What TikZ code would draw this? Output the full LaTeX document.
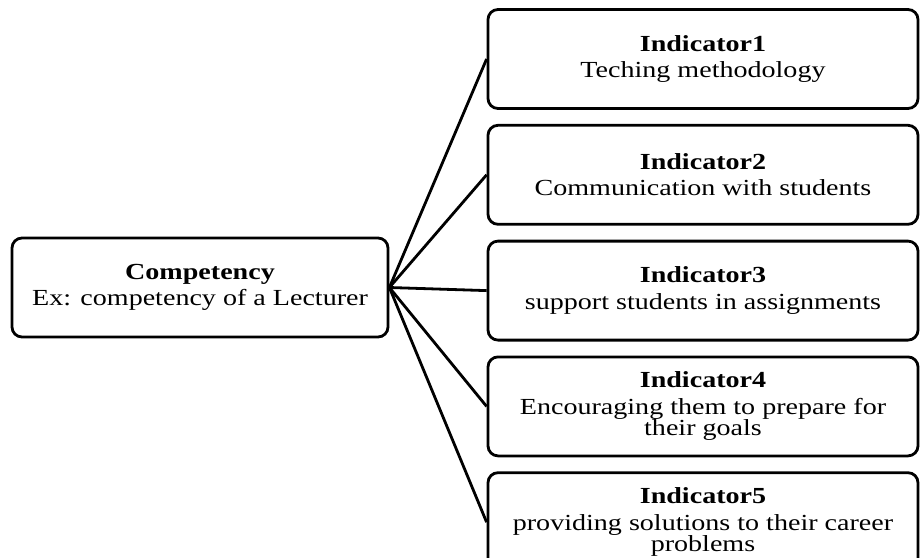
\documentclass[tikz,border=0pt]{standalone}
\usepackage{fontspec}
\setmainfont{Liberation Serif}[FakeStretch=1.22]
\usetikzlibrary{positioning}

\begin{document}
\begin{tikzpicture}[
    x=1pt, y=-1pt,
    node distance=14pt,
    box/.style={draw, rectangle, rounded corners=10pt, line width=2.8pt, align=center,
                minimum width=430pt, minimum height=99pt, inner sep=2pt,
                font=\fontsize{23}{21.5}\selectfont},
    link/.style={line width=2.8pt}
]
\useasboundingbox (0,0) rectangle (920,557);
\clip (0,0) rectangle (920,557);

\node[box, minimum width=376pt] (comp) at (200,287.5) {\textbf{Competency}\\[5pt]Ex: competency of a Lecturer};

\node[box] (ind1) at (703,59) {\textbf{Indicator1}\\[5pt]Teching methodology};
\node[box, below=of ind1] (ind2) {\textbf{Indicator2}\\[5pt]Communication with students};
\node[box, below=of ind2] (ind3) {\textbf{Indicator3}\\[5pt]support students in assignments};
\node[box, below=of ind3] (ind4) {\textbf{Indicator4}\\[5pt]Encouraging them to prepare for\\their goals};
\node[box, below=of ind4] (ind5) {\textbf{Indicator5}\\[5pt]providing solutions to their career\\problems};

\draw[link] (comp.east) -- (ind1.west);
\draw[link] (comp.east) -- (ind2.west);
\draw[link] (comp.east) -- (ind3.west);
\draw[link] (comp.east) -- (ind4.west);
\draw[link] (comp.east) -- (ind5.west);
\end{tikzpicture}
\end{document}
